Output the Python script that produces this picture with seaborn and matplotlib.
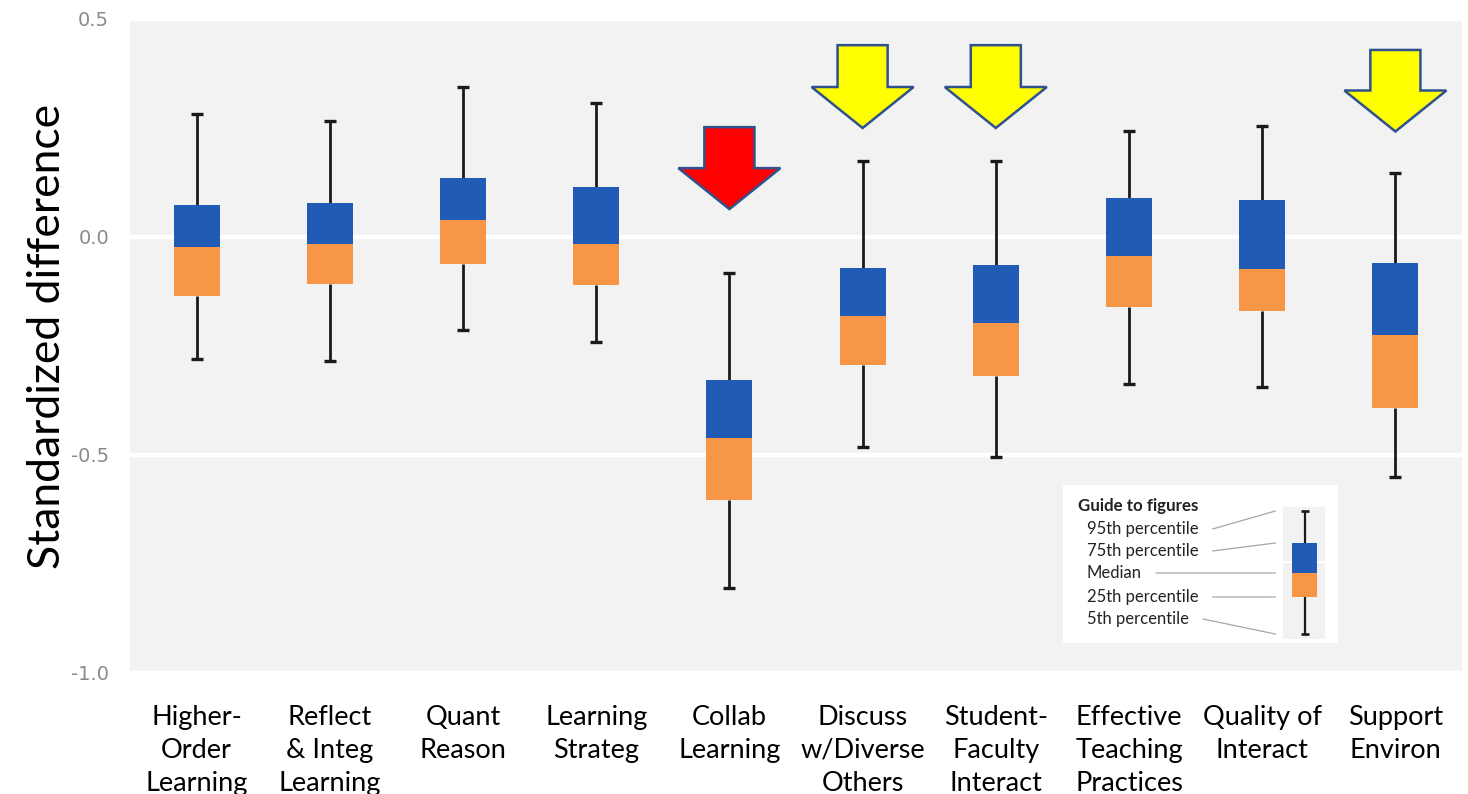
import numpy as np
import pandas as pd
import matplotlib
matplotlib.use("Agg")
import matplotlib.pyplot as plt
import seaborn as sns
from matplotlib.patches import FancyArrow, ConnectionPatch

# ---- data -------------------------------------------------------------
categories = [
    "Higher-\nOrder\nLearning", "Reflect\n& Integ\nLearning", "Quant\nReason",
    "Learning\nStrateg", "Collab\nLearning", "Discuss\nw/Diverse\nOthers",
    "Student-\nFaculty\nInteract", "Effective\nTeaching\nPractices",
    "Quality of\nInteract", "Support\nEnviron",
]
p95 = [0.281, 0.266, 0.343, 0.307, -0.082, 0.174, 0.174, 0.244, 0.255, 0.147]
p75 = [0.073, 0.079, 0.135, 0.114, -0.328, -0.070, -0.064, 0.090, 0.085, -0.059]
p50 = [-0.022, -0.016, 0.039, -0.016, -0.462, -0.181, -0.197, -0.043, -0.074, -0.225]
p25 = [-0.135, -0.108, -0.062, -0.110, -0.603, -0.294, -0.319, -0.160, -0.169, -0.393]
p05 = [-0.280, -0.284, -0.213, -0.240, -0.806, -0.481, -0.504, -0.337, -0.343, -0.550]

# flagged measures (arrow markers)
flag_index = [4, 5, 6, 9]
flag_colors = ["#FF0000", "#FFFF00", "#FFFF00", "#FFFF00"]
flag_top = [0.252, 0.440, 0.440, 0.429]
flag_tip = [0.064, 0.250, 0.250, 0.242]

# guide inset
guide_title = "Guide to figures"
guide_labels = ["95th percentile", "75th percentile", "Median", "25th percentile", "5th percentile"]
guide_stats = [0.464, 0.173, -0.100, -0.318, -0.655]

BLUE = "#205BB5"
ORANGE = "#F79646"
BG = "#F2F2F2"
INK = "#1a1a1a"

sns.set_theme(style="darkgrid", rc={
    "axes.facecolor": BG,
    "grid.color": "white",
    "grid.linewidth": 3.2,
    "axes.edgecolor": BG,
})
plt.rcParams["font.family"] = ["Lato", "DejaVu Sans"]

W, H = 1468, 794
fig = plt.figure(figsize=(W / 100, H / 100), dpi=100)
fig.patch.set_facecolor("white")


def draw_boxes(ax, cats, hi, q3, med, q1, lo, width, capw, lw):
    q3 = np.asarray(q3); med = np.asarray(med); q1 = np.asarray(q1)
    # upper half of the box (median -> 75th) and lower half (25th -> median)
    sns.barplot(x=cats, y=q3 - med, bottom=med, width=width, color=BLUE,
                saturation=1, errorbar=None, linewidth=0, ax=ax, zorder=3)
    sns.barplot(x=cats, y=med - q1, bottom=q1, width=width, color=ORANGE,
                saturation=1, errorbar=None, linewidth=0, ax=ax, zorder=3)
    pos = np.arange(len(cats))
    ax.vlines(pos, q3, hi, color=INK, lw=lw, zorder=2)
    ax.vlines(pos, lo, q1, color=INK, lw=lw, zorder=2)
    ax.hlines(hi, pos - capw / 2, pos + capw / 2, color=INK, lw=lw * 1.2, zorder=2)
    ax.hlines(lo, pos - capw / 2, pos + capw / 2, color=INK, lw=lw * 1.2, zorder=2)


# ---- main panel -------------------------------------------------------
ax = fig.add_axes([130 / W, 1 - 673 / H, 1332 / W, 654 / H])
draw_boxes(ax, categories, p95, p75, p50, p25, p05, width=0.345, capw=0.09, lw=2.0)

ax.set_xlim(-0.5, 9.5)
ax.set_ylim(-1.0, 0.5)
ax.set_yticks([-1.0, -0.5, 0.0, 0.5])
ax.set_yticklabels(["-1.0", "-0.5", "0.0", "0.5"], family="DejaVu Sans",
                   fontsize=14, color="#8a8a8a")
ax.grid(axis="x", visible=False)
ax.set_axisbelow(True)
ax.tick_params(axis="both", length=0)
ax.tick_params(axis="y", pad=15)
ax.tick_params(axis="x", pad=23)
for lab in ax.get_xticklabels():
    lab.set_fontsize(19.5)
    lab.set_color("black")
    lab.set_linespacing(1.39)
    lab.set_verticalalignment("top")
for s in ax.spines.values():
    s.set_visible(False)

ax.set_xlabel("")
ax.set_ylabel("Standardized difference", fontsize=32, color="black")
ax.yaxis.label.set_verticalalignment("center")
ax.yaxis.set_label_coords(-0.062, 0.514)

# arrow markers above flagged measures
for i, c, top, tip in zip(flag_index, flag_colors, flag_top, flag_tip):
    ax.add_patch(FancyArrow(i, top, 0, tip - top, width=0.376, head_width=0.766,
                            head_length=0.094, length_includes_head=True,
                            facecolor=c, edgecolor="#2F528F", linewidth=1.8,
                            zorder=6, clip_on=False))

# ---- guide inset ------------------------------------------------------
gax = fig.add_axes([1063 / W, 1 - 643 / H, 275 / W, 158 / H])
gax.set_facecolor("white")
gax.grid(False)
gax.set_xticks([]); gax.set_yticks([])
gax.set_xlim(1063, 1338)
gax.set_ylim(643, 485)
for s in gax.spines.values():
    s.set_visible(False)

gax.text(1078, 506, guide_title, fontsize=12.2, fontweight="bold", color="#222222",
         va="center", ha="left")
label_y = [529, 551, 573, 597, 619]
txts = [gax.text(1087, y, t, fontsize=12, color="#222222", va="center", ha="left")
        for t, y in zip(guide_labels, label_y)]

mini = fig.add_axes([1283 / W, 1 - 639 / H, 42 / W, 132 / H])
mini.set_facecolor(BG)
draw_boxes(mini, [""], [guide_stats[0]], [guide_stats[1]], [guide_stats[2]],
           [guide_stats[3]], [guide_stats[4]], width=0.6, capw=0.2, lw=1.6)
mini.set_xlim(-0.52, 0.48)
mini.set_ylim(-0.7, 0.5)
mini.set_yticks([0.0]); mini.set_yticklabels([])
mini.set_xticks([])
mini.grid(axis="y", color="white", linewidth=1.5)
mini.grid(axis="x", visible=False)
mini.tick_params(length=0)
mini.set_xlabel(""); mini.set_ylabel("")
for s in mini.spines.values():
    s.set_visible(False)

fig.canvas.draw()
renderer = fig.canvas.get_renderer()
inv = gax.transData.inverted()
for t, y, val in zip(txts, label_y, guide_stats):
    bb = t.get_window_extent(renderer)
    x0 = inv.transform((bb.x1 + 14, 0))[0]
    con = ConnectionPatch(xyA=(x0, y), coordsA=gax.transData,
                          xyB=(-0.7, val), coordsB=mini.transData,
                          color="#a6a6a6", linewidth=0.9, zorder=10)
    fig.add_artist(con)

fig.savefig("out.png", dpi=100, facecolor="white")
